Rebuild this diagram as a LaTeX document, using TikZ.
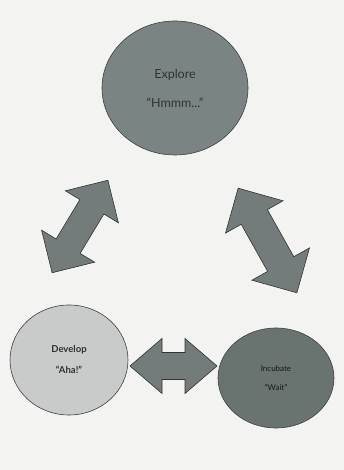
\documentclass[tikz,border=0pt]{standalone}
\usepackage{fontspec}
\setmainfont{Lato}
\usetikzlibrary{shapes.geometric}
\definecolor{bg}{HTML}{F3F3F1}
\definecolor{topc}{HTML}{7A8583}
\definecolor{rightc}{HTML}{69736F}
\definecolor{leftc}{HTML}{C9CACA}
\definecolor{arrc}{HTML}{737C7A}
\definecolor{txt}{HTML}{2E3331}
\tikzset{
  bubble/.style={ellipse, draw=black!75, line width=0.6pt, inner sep=0pt, align=center, text=txt},
  arrowsty/.style={fill=arrc, draw=black!80, line width=0.6pt, line join=miter}
}
\newcommand\dblarr[7]{%
  \begin{scope}[shift={(#1,#2)},rotate=#3]
    \filldraw[arrowsty] (-#4,0) -- (-#4+#5,#6) -- (-#4+#5,#7) -- (#4-#5,#7) -- (#4-#5,#6) -- (#4,0)
      -- (#4-#5,-#6) -- (#4-#5,-#7) -- (-#4+#5,-#7) -- (-#4+#5,-#6) -- cycle;
  \end{scope}}
\begin{document}
\begin{tikzpicture}[x=1pt,y=1pt]
  \fill[bg] (0,0) rectangle (344,470);
  \useasboundingbox (0,0) rectangle (344,470);
  \node[bubble, fill=topc, minimum width=146pt, minimum height=134pt, font=\fontsize{12.5}{14}\selectfont] (explore) at (175,382)
    {Explore\\[15pt] “Hmmm...”};
  \node[bubble, fill=leftc, minimum width=118pt, minimum height=110pt, font=\fontsize{9.5}{11}\selectfont\bfseries] (develop) at (69,110)
    {Develop\\[10pt] “Aha!”};
  \node[bubble, fill=rightc, minimum width=116pt, minimum height=100pt, font=\fontsize{8}{9.5}\selectfont, text=black!90] (incubate) at (276,92)
    {Incubate\\[10pt] “Wait”};
  \dblarr{80}{243.5}{58.9}{54}{31}{31}{14}
  \dblarr{267.5}{229.5}{-60.7}{60}{33}{33}{15}
  \dblarr{173.5}{104}{0}{43.5}{32}{27.5}{13.5}
\end{tikzpicture}
\end{document}
